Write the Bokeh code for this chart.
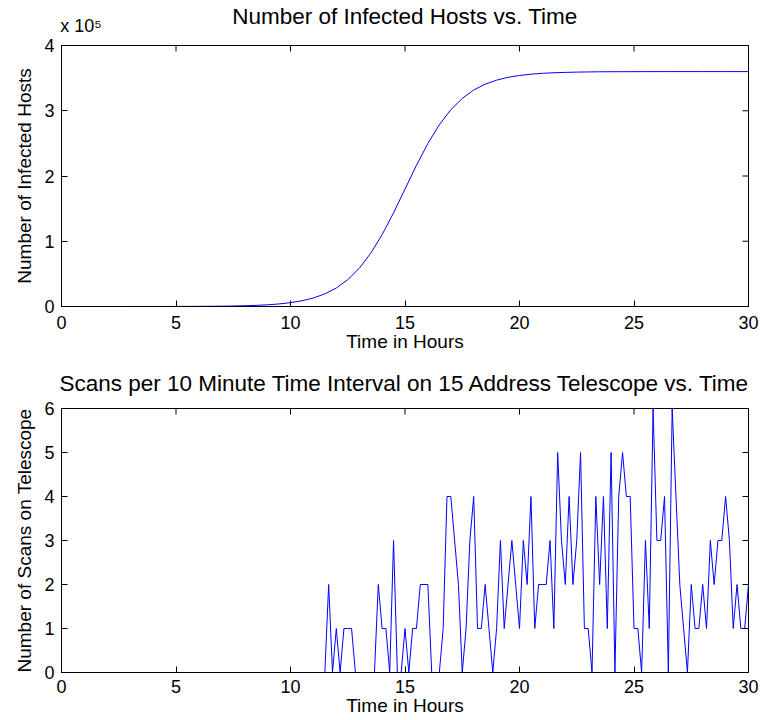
import math
from bokeh.plotting import figure
from bokeh.models import Range1d, LinearAxis, FixedTicker
from bokeh.layouts import column
from bokeh.embed import file_html
from bokeh.resources import INLINE

# ---------------- data ----------------
hours_top = [i * 0.5 for i in range(61)]
infected = [2, 2, 4, 6, 8, 13, 19, 29, 44, 66,
            99, 149, 224, 338, 509, 766, 1150, 1730, 2610, 3920,
            5870, 8770, 13050, 19310, 28350, 41060, 58490, 81430, 110100, 143600,
            180000, 216400, 249900, 278600, 301500, 318900, 331700, 340700, 346900, 351200,
            354100, 356000, 357400, 358200, 358800, 359200, 359500, 359700, 359800, 359850,
            359900, 359950, 359950, 360000, 360000, 360000, 360000, 360000, 360000, 360000,
            360000]

hours_bottom = [k / 6 for k in range(181)]
scans = [0] * 70 + [
    2, 0, 1, 0, 1, 1, 1, 0, 0, 0, 0, 0, 0, 2, 1, 1, 0, 3, 0, 0,
    1, 0, 1, 1, 2, 2, 2, 0, 0, 0,
    1, 4, 4, 3, 2, 0, 1, 3, 4, 1,
    1, 2, 1, 0, 1, 3, 1, 2, 3, 2,
    1, 3, 2, 4, 1, 2, 2, 2, 3, 1,
    5, 3, 2, 4, 2, 3, 5, 1, 1, 0,
    4, 2, 4, 1, 5, 0, 4, 5, 4, 4,
    1, 1, 0, 3, 1, 6, 3, 3, 4, 0,
    6, 4, 2, 1, 0, 2, 1, 1, 2, 1,
    3, 2, 3, 3, 4, 3, 1, 2, 1, 1,
    2]

X_END = 30
TOP_Y_END = 400000
BOTTOM_Y_END = 6
x_ticks = [0, 5, 10, 15, 20, 25, 30]
top_y_ticks = [0, 100000, 200000, 300000, 400000]
top_y_tick_labels = ["0", "1", "2", "3", "4"]
bottom_y_ticks = [0, 1, 2, 3, 4, 5, 6]
exponent_text = "x 10\u2075"
exponent_pos = 0.85   # hours, where the exponent note is centred above the axis

title_top = "Number of Infected Hosts vs. Time"
title_bottom = "Scans per 10 Minute Time Interval on 15 Address Telescope vs. Time"
xlabel = "Time in Hours"
ylabel_top = "Number of Infected Hosts"
ylabel_bottom = "Number of Scans on Telescope"

FONT = "Liberation Sans"
TICK_FS = "18px"
LABEL_FS = "19px"
TITLE_FS = "22.5px"
BLUE = "#0000ff"


def style_axis(ax, ticks, standoff=7):
    ax.ticker = FixedTicker(ticks=ticks)
    ax.major_tick_in = 6
    ax.major_tick_out = 0
    ax.minor_tick_line_color = None
    ax.axis_line_color = "black"
    ax.axis_line_width = 1
    ax.major_tick_line_color = "black"
    ax.major_label_text_font = FONT
    ax.major_label_text_color = "black"
    ax.major_label_text_font_size = TICK_FS
    ax.major_label_standoff = standoff
    ax.axis_label_text_font = FONT
    ax.axis_label_text_font_size = LABEL_FS
    ax.axis_label_text_font_style = "normal"
    ax.axis_label_text_color = "black"


def make_fig(top, bottom, y_end):
    p = figure(width=762, height=360,
               x_range=Range1d(0, X_END), y_range=Range1d(0, y_end),
               output_backend="svg", toolbar_location=None,
               min_border_left=61, min_border_right=14,
               min_border_top=top, min_border_bottom=bottom)
    p.grid.visible = False
    p.outline_line_color = "black"
    p.background_fill_color = "white"
    p.border_fill_color = "white"
    return p


def title_axis(p, title, ticks, overrides, tick_standoff, title_standoff):
    ax = LinearAxis(axis_label=title)
    ax.ticker = FixedTicker(ticks=ticks)
    ax.major_label_overrides = overrides
    ax.major_tick_line_color = None
    ax.minor_tick_line_color = None
    ax.major_tick_in = 0
    ax.major_tick_out = 0
    ax.axis_line_color = "black"
    ax.major_label_text_font = FONT
    ax.major_label_text_font_size = TICK_FS
    ax.major_label_text_color = "black"
    ax.major_label_standoff = tick_standoff
    ax.axis_label_text_font = FONT
    ax.axis_label_text_font_size = TITLE_FS
    ax.axis_label_text_font_style = "normal"
    ax.axis_label_text_color = "black"
    ax.axis_label_standoff = title_standoff
    p.add_layout(ax, "above")


def mirror_ticks(p, y_ticks, y_end):
    # MATLAB-style inward ticks on the top and right edges of the box
    p.scatter(x_ticks, [y_end] * len(x_ticks), marker="dash", size=12,
              angle=math.pi / 2, line_color="black", line_width=1)
    p.scatter([X_END] * len(y_ticks), y_ticks, marker="dash", size=12,
              line_color="black", line_width=1)


# ---------------- top plot ----------------
p1 = make_fig(42, 54, TOP_Y_END)
p1.line(hours_top, infected, line_color=BLUE, line_width=1)
p1.xaxis.axis_label = xlabel
p1.yaxis.axis_label = ylabel_top
style_axis(p1.xaxis[0], x_ticks, standoff=9)
p1.xaxis[0].axis_label_standoff = -1
style_axis(p1.yaxis[0], top_y_ticks, standoff=7)
p1.yaxis[0].major_label_overrides = dict(zip(top_y_ticks, top_y_tick_labels))
p1.yaxis[0].axis_label_standoff = 6
mirror_ticks(p1, top_y_ticks, TOP_Y_END)
title_axis(p1, title_top, [exponent_pos], {exponent_pos: exponent_text}, 10, -16)

# ---------------- bottom plot ----------------
p2 = make_fig(48, 48, BOTTOM_Y_END)
p2.line(hours_bottom, scans, line_color=BLUE, line_width=1)
p2.xaxis.axis_label = xlabel
p2.yaxis.axis_label = ylabel_bottom
style_axis(p2.xaxis[0], x_ticks, standoff=7)
p2.xaxis[0].axis_label_standoff = -1
style_axis(p2.yaxis[0], bottom_y_ticks, standoff=7)
p2.yaxis[0].axis_label_standoff = 6
mirror_ticks(p2, bottom_y_ticks, BOTTOM_Y_END)
title_axis(p2, title_bottom, [], {}, 0, 13)

layout = column(p1, p2, spacing=0)
open("out.html", "w").write(file_html(layout, INLINE))
